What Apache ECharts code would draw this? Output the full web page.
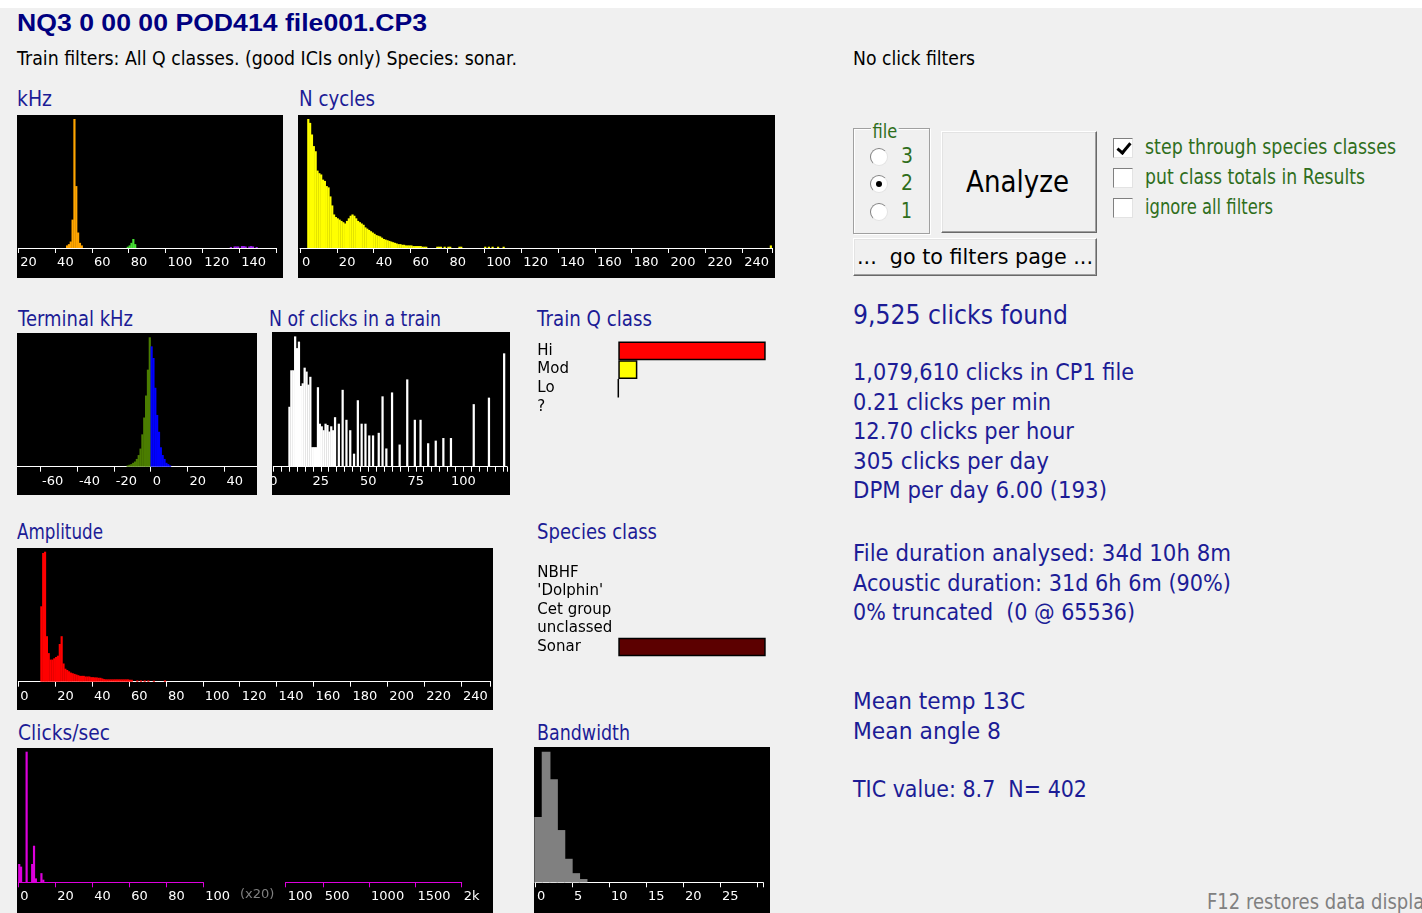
<!DOCTYPE html>
<html>
<head>
<meta charset="utf-8">
<title>NQ3 train analysis</title>
<script src="https://cdn.jsdelivr.net/npm/echarts@6.0.0/dist/echarts.min.js"></script>
<style>
  body { margin: 0; width: 1422px; height: 913px; background: #f0f0f0; position: relative; overflow: hidden; font-family: "DejaVu Sans", sans-serif; }
  .strip { position: absolute; left: 0; top: 0; width: 1422px; height: 8px; background: #fff; }
  .t { position: absolute; white-space: pre; line-height: 1; transform-origin: 0 0; }
  .navy { color: #000080; font-family: "Liberation Sans", sans-serif; font-weight: bold; }
  .ink { color: #000; }
  .blue { color: #1c1c96; }
  .green { color: #2f6e1c; }
  .grey { color: #808080; }
  .chart { position: absolute; }
  .black { background: #000; }
  .grp { position: absolute; border: 1px solid #a0a0a0; box-shadow: 1px 1px 0 #fff, inset 1px 1px 0 #fff; }
  .btn { position: absolute; background: #f0f0f0; border: 1px solid; border-color: #fff #696969 #696969 #fff; box-shadow: inset -1px -1px 0 #a0a0a0, inset 1px 1px 0 #e3e3e3; }
  .radio { position: absolute; width: 16px; height: 16px; border-radius: 50%; background: #fff; border: 1px solid; border-color: #808080 #e3e3e3 #e3e3e3 #808080; }
  .radio.on::after { content: ''; position: absolute; left: 5px; top: 5px; width: 6px; height: 6px; border-radius: 50%; background: #000; }
  .chk { position: absolute; width: 18px; height: 18px; background: #fff; border: 1px solid; border-color: #808080 #e3e3e3 #e3e3e3 #808080; }
  .chk.on::after { content: ''; position: absolute; left: 6px; top: 1px; width: 5px; height: 11px; border: solid #000; border-width: 0 3px 3px 0; transform: rotate(40deg); }
</style>
</head>
<body>
<div class="strip"></div>

<span class="t navy" style="left:17px;top:12px;font-size:23px" data-w="410">NQ3 0 00 00 POD414 file001.CP3</span>
<span class="t ink" style="left:17px;top:48px;font-size:20px" data-w="500">Train filters: All Q classes. (good ICIs only) Species: sonar.</span>
<span class="t ink" style="left:853px;top:48px;font-size:20px" data-w="122">No click filters</span>

<span class="t blue" style="left:17px;top:89px;font-size:21px" data-w="35">kHz</span>
<span class="t blue" style="left:299px;top:89px;font-size:21px" data-w="76">N cycles</span>
<span class="t blue" style="left:18px;top:309px;font-size:21px" data-w="115">Terminal kHz</span>
<span class="t blue" style="left:269px;top:309px;font-size:21px" data-w="172">N of clicks in a train</span>
<span class="t blue" style="left:537px;top:309px;font-size:21px" data-w="115">Train Q class</span>
<span class="t blue" style="left:17px;top:522px;font-size:21px" data-w="86">Amplitude</span>
<span class="t blue" style="left:537px;top:522px;font-size:21px" data-w="120">Species class</span>
<span class="t blue" style="left:18px;top:723px;font-size:21px" data-w="92">Clicks/sec</span>
<span class="t blue" style="left:537px;top:723px;font-size:21px" data-w="93">Bandwidth</span>

<div class="grp" style="left:853px;top:128px;width:75px;height:104px"></div>
<span class="t green" style="left:871px;top:121px;font-size:20px;background:#f0f0f0;padding:0 2px" data-w="28">file</span>
<div class="radio" style="left:870px;top:148px"></div>
<div class="radio on" style="left:870px;top:175px"></div>
<div class="radio" style="left:870px;top:203px"></div>
<span class="t green" style="left:901px;top:146px;font-size:21px" data-w="12">3</span>
<span class="t green" style="left:901px;top:173px;font-size:21px" data-w="12">2</span>
<span class="t green" style="left:901px;top:201px;font-size:21px" data-w="11">1</span>

<div class="btn" style="left:941px;top:131px;width:154px;height:100px"></div>
<span class="t ink" style="left:966px;top:167px;font-size:30px" data-w="103">Analyze</span>
<div class="btn" style="left:853px;top:238px;width:242px;height:36px"></div>
<span class="t ink" style="left:857px;top:246px;font-size:22px" data-w="236">...  go to filters page ...</span>

<div class="chk on" style="left:1113px;top:138px"></div>
<div class="chk" style="left:1113px;top:168px"></div>
<div class="chk" style="left:1113px;top:198px"></div>
<span class="t green" style="left:1145px;top:137px;font-size:21px" data-w="251">step through species classes</span>
<span class="t green" style="left:1145px;top:167px;font-size:21px" data-w="220">put class totals in Results</span>
<span class="t green" style="left:1145px;top:197px;font-size:21px" data-w="128">ignore all filters</span>

<span class="t blue" style="left:853px;top:302px;font-size:26px" data-w="215">9,525 clicks found</span>
<span class="t blue" style="left:853px;top:361px;font-size:23px" data-w="281">1,079,610 clicks in CP1 file</span>
<span class="t blue" style="left:853px;top:391px;font-size:23px" data-w="198">0.21 clicks per min</span>
<span class="t blue" style="left:853px;top:420px;font-size:23px" data-w="221">12.70 clicks per hour</span>
<span class="t blue" style="left:853px;top:450px;font-size:23px" data-w="196">305 clicks per day</span>
<span class="t blue" style="left:853px;top:479px;font-size:23px" data-w="254">DPM per day 6.00 (193)</span>
<span class="t blue" style="left:853px;top:542px;font-size:23px" data-w="378">File duration analysed: 34d 10h 8m</span>
<span class="t blue" style="left:853px;top:572px;font-size:23px" data-w="378">Acoustic duration: 31d 6h 6m (90%)</span>
<span class="t blue" style="left:853px;top:601px;font-size:23px" data-w="282">0% truncated  (0 @ 65536)</span>
<span class="t blue" style="left:853px;top:690px;font-size:23px" data-w="172">Mean temp 13C</span>
<span class="t blue" style="left:853px;top:720px;font-size:23px" data-w="148">Mean angle 8</span>
<span class="t blue" style="left:853px;top:778px;font-size:23px" data-w="234">TIC value: 8.7  N= 402</span>
<span class="t grey" style="left:1207px;top:892px;font-size:21px" data-w="228">F12 restores data display</span>

<div id="khz" class="chart black" style="left:17px;top:115px;width:266px;height:163px"></div>
<div id="ncyc" class="chart black" style="left:298px;top:115px;width:477px;height:163px"></div>
<div id="term" class="chart black" style="left:17px;top:333px;width:240px;height:162px"></div>
<div id="nclk" class="chart black" style="left:272px;top:332px;width:238px;height:163px"></div>
<div id="amp" class="chart black" style="left:17px;top:548px;width:476px;height:162px"></div>
<div id="cps" class="chart black" style="left:17px;top:748px;width:476px;height:165px"></div>
<div id="bw" class="chart black" style="left:534px;top:747px;width:236px;height:166px"></div>
<div id="qcls" class="chart" style="left:520px;top:330px;width:260px;height:95px"></div>
<div id="spec" class="chart" style="left:520px;top:555px;width:260px;height:110px"></div>

<script>
// kHz histogram (bin start, % of peak)
const khzOrangeBins = [46, 47, 48, 49, 50, 51, 52, 53, 54];
const khzOrangeCounts = [2, 3, 5, 22, 100, 48, 12, 4, 2];
const khzGreenBins = [79, 80, 81, 82, 83];
const khzGreenCounts = [1, 2, 4, 7, 3];
const khzPurpleBins = [135, 137, 138, 139, 141, 142, 143, 145, 146, 147, 149];
const khzPurpleCounts = [0.8, 1.2, 1.2, 1.2, 1.5, 1.5, 1.2, 1.2, 1.5, 1.2, 0.8];
const khzLabels = [20, 40, 60, 80, 100, 120, 140];

// N cycles
const ncycBins = [4, 5, 6, 7, 8, 9, 10, 11, 12, 13, 14, 15, 16, 17, 18, 19, 20, 21, 22, 23, 24, 25, 26, 27, 28, 29, 30,
  31, 32, 33, 34, 35, 36, 37, 38, 39, 40, 41, 42, 43, 44, 45, 46, 47, 48, 49, 50, 51, 52, 53, 54, 55, 56, 57, 58, 59, 60,
  61, 62, 63, 64, 65, 66, 67, 68, 74, 75, 76, 78, 80, 81, 86, 87, 100, 102, 104, 107, 110, 255];
const ncycCounts = [100, 97, 88, 79, 75, 60, 58, 57, 53, 52, 48, 47, 40, 33, 26, 24, 23, 22, 21, 20, 19, 21, 23, 25, 26, 25, 23,
  21, 20, 19, 18, 16, 15, 14, 13, 12, 11, 10, 9.5, 9, 8, 7, 6.5, 6, 5.5, 5, 4.5, 4, 3.5, 3, 3, 2.5, 2.5, 2, 2, 2, 2,
  1.5, 1.5, 1.5, 1.5, 1.5, 1, 1, 1, 1, 1, 1, 1, 1, 1, 1, 1, 1, 1, 1, 1, 1, 2];
const ncycLabels = [0, 20, 40, 60, 80, 100, 120, 140, 160, 180, 200, 220, 240];

// Terminal kHz
const termGreenBins = [-13, -12, -11, -10, -9, -8, -7, -6, -5, -4, -3, -2, -1];
const termGreenCounts = [1, 1.5, 2, 3, 4, 6, 9, 14, 25, 38, 55, 75, 100];
const termBlueBins = [0, 1, 2, 3, 4, 5, 6, 7, 8, 9, 10];
const termBlueCounts = [93, 84, 61, 40, 27, 15, 9, 6, 3, 2, 1];
const termLabels = [-60, -40, -20, 0, 20, 40];

// N of clicks in a train
const nclkBins = [8, 9, 10, 11, 12, 13, 14, 15, 16, 17, 18, 19, 20, 21, 22, 23, 24, 25, 26, 27, 28, 29, 30, 31,
  32, 34, 36, 38, 40, 42, 44, 46, 48, 50, 52, 55, 57, 59, 62, 66, 70, 74, 77, 81, 85, 89, 93, 105, 113, 121];
const nclkCounts = [46, 74, 74, 100, 91, 96, 62, 64, 76, 73, 63, 69, 15, 15, 15, 61, 33, 31, 28, 33, 32, 27, 31, 28,
  38, 33, 59, 36, 28, 10, 51, 33, 33, 24, 24, 26, 54, 14, 57, 17, 67, 36, 36, 18, 20, 22, 22, 48, 53, 87];
const nclkLabels = [0, 25, 50, 75, 100];

// Amplitude
const ampBins = [12, 13, 14, 15, 16, 17, 18, 19, 20, 21, 22, 23, 24, 25, 26, 27, 28, 29, 30, 31, 32, 33, 34, 35, 36,
  37, 38, 39, 40, 41, 42, 43, 44, 45, 46, 47, 48, 49, 50, 51, 52, 53, 54, 55, 56, 57, 58, 59, 60, 61, 64, 66, 68, 70, 73, 79];
const ampCounts = [58, 99, 100, 35, 22, 17, 17, 18, 19, 20, 29, 35, 14, 10, 9, 8, 7, 6.5, 6, 5.5, 5, 4.5, 4.5, 4.5, 4,
  4, 4, 3.5, 3.5, 3.3, 3.3, 3, 3, 2.5, 2, 1.8, 1.8, 1.8, 1.8, 1.8, 1.8, 1.8, 1.8, 1.8, 1.8, 1.8, 1.8, 1.8, 1.5, 1.5, 1, 1, 1, 1, 0.8, 1];
const ampLabels = [0, 20, 40, 60, 80, 100, 120, 140, 160, 180, 200, 220, 240];

// Clicks/sec
const cpsBins = [0, 1, 4, 7, 8, 9, 12, 13];
const cpsCounts = [14, 12, 100, 14, 28, 3, 7, 2];
const cpsLabels = [0, 20, 40, 60, 80, 100];
const cpsHighLabels = [100, 500, 1000, 1500, 2000];

// Bandwidth
const bwBins = [0, 1, 2, 3, 4, 5, 6];
const bwCounts = [50, 100, 79, 40, 18, 7, 2.5];
const bwLabels = [0, 5, 10, 15, 20, 25];

// Train Q class and species class (number of trains)
const qClasses = ['Hi', 'Mod', 'Lo', '?'];
const qCounts = [356, 46, 0, '-'];
const qColors = ['#ff0000', '#ffff00', '#ffff00', '#ffff00'];
const speciesClasses = ['NBHF', "'Dolphin'", 'Cet group', 'unclassed', 'Sonar'];
const speciesCounts = ['-', '-', '-', '-', 356];

// fit texts to measured widths
document.querySelectorAll('[data-w]').forEach(el => {
  const w = el.getBoundingClientRect().width
  el.style.transform = 'scaleX(' + (+el.dataset.w / w) + ')'
})

const FONT = 'DejaVu Sans'

function xAxisOf(cfg, color) {
  return {
    type: 'value', min: cfg.min, max: cfg.max, interval: cfg.interval,
    gridIndex: cfg.gridIndex || 0,
    axisLine: { show: true, onZero: false, lineStyle: { color: color, width: 1 } },
    axisTick: Object.assign({ show: true, inside: false, length: 5, lineStyle: { color: color } },
      cfg.customTicks ? { customValues: cfg.customTicks } : {}),
    minorTick: cfg.minor ? { show: true, splitNumber: cfg.minor, length: 5, lineStyle: { color: color } } : { show: false },
    splitLine: { show: false },
    axisLabel: Object.assign({
      color: '#fff', fontSize: 13, fontFamily: FONT, margin: 8,
      align: cfg.align || 'left', padding: cfg.align === 'center' ? 0 : [0, 0, 0, 2],
      formatter: v => cfg.labels.indexOf(v) >= 0 ? (v === 2000 ? '2k' : String(v)) : ''
    }, cfg.customTicks ? { customValues: cfg.customTicks } : {})
  }
}

function barsOf(list, binW, gridIndex) {
  return list.map(s => ({
    type: 'bar', xAxisIndex: gridIndex || 0, yAxisIndex: gridIndex || 0,
    // a little wider than the bin so neighbouring bins touch without seams
    barWidth: '118%', barGap: '-100%', silent: true,
    itemStyle: { color: s.color },
    data: s.bins.map((b, i) => [b + binW / 2, s.counts[i]])
  }))
}

function histogram(id, cfg) {
  const chart = echarts.init(document.getElementById(id))
  chart.setOption({
    animation: false,
    backgroundColor: '#000',
    grid: Object.assign({ outerBoundsMode: 'none', containLabel: false }, cfg.grid),
    xAxis: xAxisOf(cfg, cfg.axisColor || '#fff'),
    yAxis: { type: 'value', min: 0, max: 100, show: false },
    series: barsOf(cfg.series, cfg.binW || 1)
  })
  return chart
}

histogram('khz', {
  grid: { left: 1.3, top: 4, width: 257.7, bottom: 30 },
  min: 20, max: 160, interval: 20, labels: khzLabels,
  series: [
    { bins: khzOrangeBins, counts: khzOrangeCounts, color: '#ffa500' },
    { bins: khzGreenBins, counts: khzGreenCounts, color: '#44dd33' },
    { bins: khzPurpleBins, counts: khzPurpleCounts, color: '#a020f0' }
  ]
})

histogram('ncyc', {
  grid: { left: 2, top: 4, width: 471.8, bottom: 30 },
  min: 0, max: 256, interval: 20, labels: ncycLabels,
  series: [{ bins: ncycBins, counts: ncycCounts, color: '#ffff00' }]
})

histogram('term', {
  grid: { left: -13.9, top: 4.3, width: 258.3, bottom: 28.3 },
  min: -80, max: 60, interval: 20, labels: termLabels,
  series: [
    { bins: termGreenBins, counts: termGreenCounts, color: '#4b7d00' },
    { bins: termBlueBins, counts: termBlueCounts, color: '#0000ff' }
  ]
})

histogram('nclk', {
  grid: { left: 1.3, top: 4.4, width: 233.7, bottom: 28.3 },
  min: 0, max: 123, interval: 25, minor: 6, align: 'center', labels: nclkLabels,
  series: [{ bins: nclkBins, counts: nclkCounts, color: '#ffffff' }]
})

histogram('amp', {
  grid: { left: 1.3, top: 3.7, width: 472.3, bottom: 28.3 },
  min: 0, max: 256, interval: 20, labels: ampLabels,
  series: [{ bins: ampBins, counts: ampCounts, color: '#ff0000' }]
})

histogram('bw', {
  grid: { left: 1, top: 4.7, width: 227.9, bottom: 30.7 },
  min: 0, max: 30.8, interval: 5, labels: bwLabels,
  series: [{ bins: bwBins, counts: bwCounts, color: '#808080' }]
})

// Clicks/sec: linear 0-100 part and a compressed 100-2000 part
const cps = echarts.init(document.getElementById('cps'))
const MAG = '#dd00dd'
cps.setOption({
  animation: false,
  backgroundColor: '#000',
  grid: [
    { left: 1.3, top: 3.7, width: 185, bottom: 30.7, outerBoundsMode: 'none', containLabel: false },
    { left: 268.7, top: 3.7, width: 176, bottom: 30.7, outerBoundsMode: 'none', containLabel: false }
  ],
  xAxis: [
    xAxisOf({ min: 0, max: 100, interval: 20, labels: cpsLabels }, MAG),
    xAxisOf({ min: 100, max: 2000, interval: 500, labels: cpsHighLabels, customTicks: cpsHighLabels, gridIndex: 1 }, MAG)
  ],
  yAxis: [
    { type: 'value', min: 0, max: 100, show: false, gridIndex: 0 },
    { type: 'value', min: 0, max: 100, show: false, gridIndex: 1 }
  ],
  graphic: [{
    type: 'text', x: 223, y: 147,
    style: { text: '(x20)', fill: '#808080', font: '13px "DejaVu Sans"', verticalAlign: 'middle' }
  }],
  series: barsOf([{ bins: cpsBins, counts: cpsCounts, color: MAG }], 1, 0)
})

function classBars(id, cfg) {
  const chart = echarts.init(document.getElementById(id))
  chart.setOption({
    animation: false,
    grid: Object.assign({ outerBoundsMode: 'none', containLabel: false }, cfg.grid),
    xAxis: { type: 'value', min: 0, max: 356, show: false },
    yAxis: {
      type: 'category', inverse: true, data: cfg.classes,
      axisLine: { show: false }, axisTick: { show: false }, splitLine: { show: false },
      axisLabel: { interval: 0, align: 'left', margin: 81, color: '#000', fontSize: 15, fontFamily: FONT }
    },
    series: [{
      type: 'bar', barWidth: '100%', silent: true,
      itemStyle: { borderColor: '#000', borderWidth: 1.5 },
      data: cfg.counts.map((v, i) => ({ value: v, itemStyle: { color: cfg.colors[i] } }))
    }]
  })
  return chart
}

classBars('qcls', {
  grid: { left: 98.3, top: 11.5, width: 147.4, height: 74.8 },
  classes: qClasses, counts: qCounts, colors: qColors
})

classBars('spec', {
  grid: { left: 98.3, top: 8.7, width: 147.4, height: 92.5 },
  classes: speciesClasses, counts: speciesCounts,
  colors: ['#5c0000', '#5c0000', '#5c0000', '#5c0000', '#5c0000']
})
</script>
</body>
</html>
